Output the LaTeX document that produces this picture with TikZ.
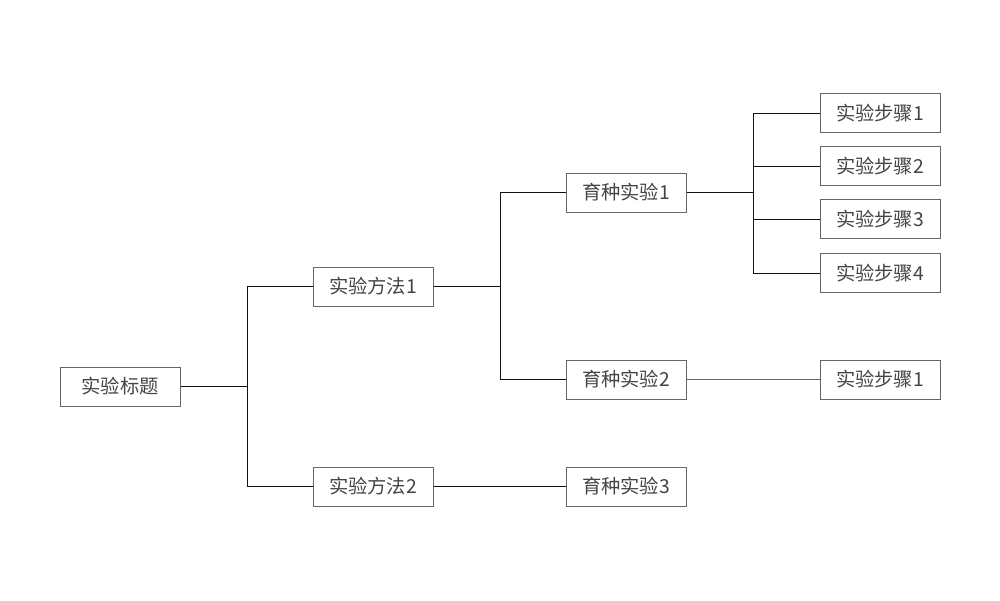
\documentclass[tikz,border=0pt]{standalone}
\usepackage{fontspec}
\setmainfont{Noto Sans CJK SC}
\definecolor{boxline}{HTML}{666666}
\definecolor{txt}{HTML}{444444}
\definecolor{conn}{HTML}{111111}
\begin{document}
\begin{tikzpicture}[x=1pt,y=-1pt,
  box/.style={draw=boxline,line width=1pt,minimum width=120pt,minimum height=39pt,inner sep=0pt,text=txt,font=\fontsize{19.3}{21}\selectfont},
  link/.style={draw=conn,line width=1pt}]
\useasboundingbox (0,0) rectangle (1000,600);
\node[box] (t) at (120,386.5) {实验标题};
\node[box] (m1) at (373,286.5) {实验方法1};
\node[box] (m2) at (373,486.5) {实验方法2};
\node[box] (b1) at (626,192.5) {育种实验1};
\node[box] (b2) at (626,379.5) {育种实验2};
\node[box] (b3) at (626,486.5) {育种实验3};
\node[box] (s1) at (880,113) {实验步骤1};
\node[box] (s2) at (880,166) {实验步骤2};
\node[box] (s3) at (880,219) {实验步骤3};
\node[box] (s4) at (880,273) {实验步骤4};
\node[box] (s5) at (880,379.5) {实验步骤1};
\draw[link] (t.east) -- (247,386.5) |- (m1.west);
\draw[link] (247,386.5) |- (m2.west);
\draw[link] (m1.east) -- (500,286.5) |- (b1.west);
\draw[link] (500,286.5) |- (b2.west);
\draw[link] (m2.east) -- (b3.west);
\draw[link] (b1.east) -- (753,192.5) |- (s1.west);
\draw[link] (753,192.5) |- (s2.west);
\draw[link] (753,192.5) |- (s3.west);
\draw[link] (753,192.5) |- (s4.west);
\draw[link,draw=boxline] (b2.east) -- (s5.west);
\end{tikzpicture}
\end{document}
